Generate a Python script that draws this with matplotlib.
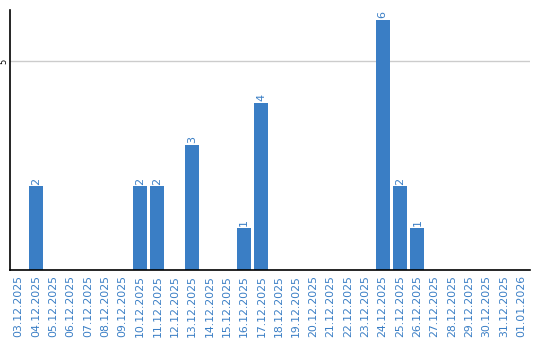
import matplotlib
matplotlib.use('Agg')
import matplotlib.pyplot as plt

dates = ['03.12.2025', '04.12.2025', '05.12.2025', '06.12.2025', '07.12.2025',
         '08.12.2025', '09.12.2025', '10.12.2025', '11.12.2025', '12.12.2025',
         '13.12.2025', '14.12.2025', '15.12.2025', '16.12.2025', '17.12.2025',
         '18.12.2025', '19.12.2025', '20.12.2025', '21.12.2025', '22.12.2025',
         '23.12.2025', '24.12.2025', '25.12.2025', '26.12.2025', '27.12.2025',
         '28.12.2025', '29.12.2025', '30.12.2025', '31.12.2025', '01.01.2026']
counts = [0, 2, 0, 0, 0, 0, 0, 2, 2, 0,
          3, 0, 0, 1, 4, 0, 0, 0, 0, 0,
          0, 6, 2, 1, 0, 0, 0, 0, 0, 0]

blue = '#3a7ec5'

fig = plt.figure(figsize=(5.4, 3.4), dpi=100)
ax = fig.add_axes([0.0185, 0.207, 0.963, 0.763])

x = range(len(dates))
ax.bar(x, counts, width=0.8, color=blue, zorder=2)
for i, v in enumerate(counts):
    if v > 0:
        ax.text(i, v + 0.04, str(v), rotation=90, ha='center', va='bottom',
                color=blue, fontsize=8)

ax.set_xlim(-0.5, len(dates) - 0.5)
ax.set_ylim(0, 6.23)
ax.set_xticks(list(x))
ax.set_xticklabels(dates, rotation=90, color=blue, fontsize=7.8)
ax.set_yticks([5])
ax.set_yticklabels(['5'], rotation=90, va='center', fontsize=6)
ax.tick_params(axis='y', length=0, pad=1)
ax.tick_params(axis='x', length=0, pad=4)
ax.grid(axis='y', color='#cccccc', linewidth=1, zorder=0)

for s in ['top', 'right']:
    ax.spines[s].set_visible(False)
ax.spines['left'].set_linewidth(1.2)
ax.spines['bottom'].set_linewidth(1.2)

fig.savefig('out.png', dpi=100)
